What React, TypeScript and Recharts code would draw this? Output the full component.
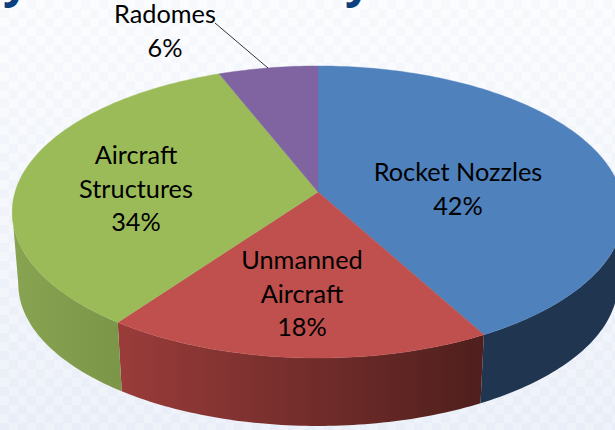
import { Pie, PieChart } from "recharts";

const CATEGORIES = ["Rocket Nozzles", "Unmanned Aircraft", "Aircraft Structures", "Radomes"];
const SHARES = [42, 18, 34, 6];
const TOP_COLORS = ["#4f81bd", "#c0504d", "#9bbb59", "#8064a2"];
const WALL_FILLS = ["#1f3550", "url(#wallRed)", "url(#wallGreen)", "#4d3c61"];

// text lines of each label, and where the first line's baseline goes
const LABEL_LINES = [
  ["Rocket Nozzles", "42%"],
  ["Unmanned", "Aircraft", "18%"],
  ["Aircraft", "Structures", "34%"],
  ["Radomes", "6%"],
];
const LABEL_SPOTS = [
  [458, 181],
  [302, 269],
  [136, 164],
  [165, 23],
];

const WIDTH = 615;
const HEIGHT = 430;
const CX = 318;
const CY = 192;
const RADIUS = 143.3;
const X_STRETCH = 2.114;
const PERSPECTIVE = 0.137;
// the lower rim is the upper one moved down and shrunk about the rim's middle
const RIM_MIDDLE_Y = 212;
const DROP = 72;
const BOTTOM_X_SCALE = 0.98;
const BOTTOM_Y_SCALE = 0.972;
// rim angle where the tilted outline is widest, the wall stops there
const SILHOUETTE = (Math.asin(PERSPECTIVE) * 180) / Math.PI;

const data = CATEGORIES.map((name, i) => ({ name, value: SHARES[i], fill: TOP_COLORS[i] }));

// point on the tilted rim; angle is recharts degrees (90 = top, going clockwise as it falls)
function rimPoint(angle: number, cx: number, cy: number, r: number) {
  const rad = (angle * Math.PI) / 180;
  const u = Math.cos(rad);
  const v = -Math.sin(rad);
  const w = 1 - PERSPECTIVE * v;
  return [cx + (r * X_STRETCH * u) / w, cy + (r * v) / w];
}

function sampleRim(from: number, to: number, cx: number, cy: number, r: number) {
  const steps = Math.max(2, Math.ceil(Math.abs(to - from)));
  const pts: number[][] = [];
  for (let i = 0; i <= steps; i++) {
    pts.push(rimPoint(from + ((to - from) * i) / steps, cx, cy, r));
  }
  return pts;
}

function TopSlice(props: any) {
  const { cx, cy, outerRadius, startAngle, endAngle, fill } = props;
  const pts = sampleRim(startAngle, endAngle, cx, cy, outerRadius);
  const d = `M${cx},${cy}L` + pts.map((p) => `${p[0].toFixed(2)},${p[1].toFixed(2)}`).join("L") + "Z";
  return <path d={d} fill={fill} stroke={fill} strokeWidth={0.4} />;
}

// wall only exists on the front part of the rim
function WallSlice(props: any) {
  const { cx, cy, outerRadius, startAngle, endAngle, index } = props;
  const from = Math.min(startAngle, -SILHOUETTE);
  const to = Math.max(endAngle, -180 + SILHOUETTE);
  if (from <= to) return null;
  const top = sampleRim(from, to, cx, cy, outerRadius);
  const bottom = top
    .map((p) => [
      cx + (p[0] - cx) * BOTTOM_X_SCALE,
      RIM_MIDDLE_Y + (p[1] - RIM_MIDDLE_Y) * BOTTOM_Y_SCALE + DROP,
    ])
    .reverse();
  const d = "M" + [...top, ...bottom].map((p) => `${p[0].toFixed(2)},${p[1].toFixed(2)}`).join("L") + "Z";
  return <path d={d} fill={WALL_FILLS[index]} />;
}

function SliceLabel(props: any) {
  const { index } = props;
  const [x, y] = LABEL_SPOTS[index];
  const lines = LABEL_LINES[index];
  return (
    <g>
      {index === 3 && <line x1={215} y1={23} x2={268} y2={68} stroke="#333" strokeWidth={1} />}
      <text x={x} y={y} textAnchor="middle" fontSize={25.3} fill="#000" fontFamily="Lato, sans-serif">
        {lines.map((line, i) => (
          <tspan key={line} x={x} dy={i === 0 ? 0 : 33.5}>
            {line}
          </tspan>
        ))}
      </text>
    </g>
  );
}

export default function App() {
  return (
    <div
      style={{
        position: "absolute",
        left: 0,
        top: 0,
        width: WIDTH,
        height: HEIGHT,
        overflow: "hidden",
        backgroundColor: "#f8f9fc",
        backgroundImage:
          "linear-gradient(180deg, rgba(255,255,255,0.5) 0%, rgba(225,232,245,0.45) 100%), repeating-conic-gradient(#eef2f9 0% 25%, #f9fafd 0% 50%)",
        backgroundSize: "100% 100%, 18px 18px",
      }}
    >
      <PieChart width={WIDTH} height={HEIGHT} margin={{ top: 0, right: 0, bottom: 0, left: 0 }}>
        <defs>
          <linearGradient id="wallRed" gradientUnits="userSpaceOnUse" x1={118} y1={0} x2={484} y2={0}>
            <stop offset="0%" stopColor="#9a3c3a" />
            <stop offset="100%" stopColor="#4e1f1d" />
          </linearGradient>
          <linearGradient id="wallGreen" gradientUnits="userSpaceOnUse" x1={12} y1={0} x2={120} y2={0}>
            <stop offset="0%" stopColor="#88a351" />
            <stop offset="100%" stopColor="#7b9648" />
          </linearGradient>
        </defs>
        <text x={16} y={-3} textAnchor="middle" fontSize={46} fontWeight={700} fill="#0b3f7d" fontFamily="'Open Sans', sans-serif">
          y
        </text>
        <text x={358} y={-3} textAnchor="middle" fontSize={46} fontWeight={700} fill="#0b3f7d" fontFamily="'Open Sans', sans-serif">
          y
        </text>
        <Pie
          data={data}
          dataKey="value"
          nameKey="name"
          cx={CX}
          cy={CY}
          outerRadius={RADIUS}
          startAngle={90}
          endAngle={-270}
          shape={WallSlice}
          label={false}
          labelLine={false}
          stroke="none"
          isAnimationActive={false}
        />
        <Pie
          data={data}
          dataKey="value"
          nameKey="name"
          cx={CX}
          cy={CY}
          outerRadius={RADIUS}
          startAngle={90}
          endAngle={-270}
          shape={TopSlice}
          label={SliceLabel}
          labelLine={false}
          stroke="none"
          isAnimationActive={false}
        />
      </PieChart>
    </div>
  );
}
